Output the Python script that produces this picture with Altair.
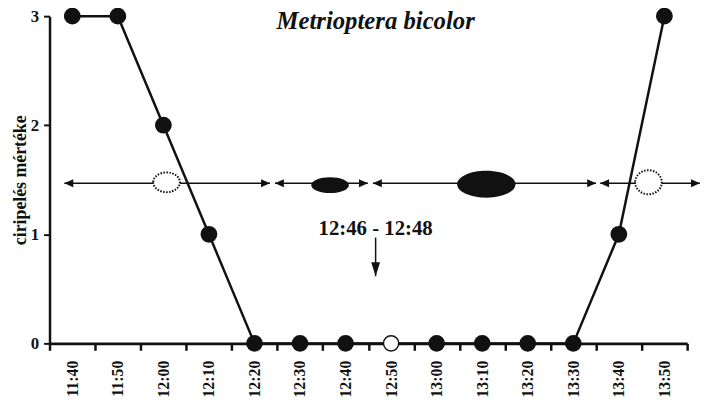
import altair as alt
import pandas as pd

# ---- data ----
times = ["11:40", "11:50", "12:00", "12:10", "12:20", "12:30", "12:40",
         "12:50", "13:00", "13:10", "13:20", "13:30", "13:40", "13:50"]
chirp_level = [3, 3, 2, 1, 0, 0, 0, 0, 0, 0, 0, 0, 1, 3]
open_times = ["12:50"]

# horizontal double-arrow segments (minutes after 11:40)
arrow_level = 1.468
seg_start = [-1.75, 44.5, 66.0, 115.9]
seg_end = [43.4, 64.9, 115.0, 137.8]

# chirping bursts on the arrow line (minutes after 11:40)
burst_min = [20.7, 56.6, 90.9, 126.5]
burst_level = [1.477, 1.45, 1.459, 1.477]
burst_filled = [False, True, True, False]

# annotation
note_text = "12:46 - 12:48"
note_min = 66.6
note_level = 0.997
note_arrow_top = 0.97
note_arrow_tip = 0.616

title_text = "Metrioptera bicolor"
title_min = 66.6
title_level = 2.882

# ---- styles ----
INK = "#111111"
FONT = "Liberation Serif"
burst_width = [27, 38, 59, 27]      # px
burst_ratio = [0.74, 0.42, 0.46, 0.9]

df = pd.DataFrame({"time": times, "level": chirp_level,
                   "open": [t in open_times for t in times]})

yscale = alt.Scale(domain=[0, 3], nice=False, zero=True)
xq_scale = alt.Scale(domain=[-5, 135], nice=False, zero=False)
band_scale = alt.Scale(type="band", paddingInner=0, paddingOuter=0)

yaxis = alt.Axis(values=[0, 1, 2, 3], title="ciripelés mértéke",
                 tickSize=6, tickWidth=2, labelPadding=5,
                 labelFontSize=17, titleFontSize=18, titlePadding=1,
                 domainWidth=2.5)

xband = alt.X("time:O", sort=times, scale=band_scale,
              axis=alt.Axis(title=None, labelAngle=-90, tickBand="extent",
                            tickSize=7, tickWidth=2.5, labelPadding=10,
                            labelFontSize=16, domainWidth=3))
yq = lambda f: alt.Y(f, scale=yscale, axis=yaxis)
xq = lambda f: alt.X(f, scale=xq_scale, axis=None)

line = alt.Chart(df).mark_line(color=INK, strokeWidth=2.5).encode(
    x=xband, y=yq("level:Q"))
pts = alt.Chart(df).mark_point(shape="circle", filled=True, size=240, opacity=1,
                               stroke=INK, strokeWidth=1.5).encode(
    x=xband, y=yq("level:Q"),
    fill=alt.condition("datum.open", alt.value("white"), alt.value(INK)))
main = alt.layer(line, pts)

seg_df = pd.DataFrame({"start": seg_start, "end": seg_end,
                       "level": [arrow_level] * len(seg_start)})

segs = alt.Chart(seg_df).mark_rule(color=INK, strokeWidth=1.5).encode(
    x=xq("start:Q"), x2="end:Q", y=yq("level:Q"))
heads_r = alt.Chart(seg_df).mark_point(
    shape="M0,0 L-1,-0.45 L-1,0.45 Z", size=324, filled=True, fill=INK,
    opacity=1).encode(x=xq("end:Q"), y=yq("level:Q"))
heads_l = alt.Chart(seg_df).mark_point(
    shape="M0,0 L1,-0.45 L1,0.45 Z", size=324, filled=True, fill=INK,
    opacity=1).encode(x=xq("start:Q"), y=yq("level:Q"))

ann = [segs, heads_r, heads_l]

for i in range(len(burst_min)):
    r = burst_ratio[i]
    path = f"M-1,0 A1,{r} 0 1,0 1,0 A1,{r} 0 1,0 -1,0 Z"
    bdf = pd.DataFrame({"m": [burst_min[i]], "level": [burst_level[i]]})
    if burst_filled[i]:
        mk = alt.Chart(bdf).mark_point(shape=path, size=burst_width[i] ** 2,
                                       filled=True, fill=INK, opacity=1)
    else:
        mk = alt.Chart(bdf).mark_point(shape=path, size=burst_width[i] ** 2,
                                       filled=True, fill="white", stroke=INK,
                                       strokeWidth=2, strokeDash=[1.5, 1.5],
                                       opacity=1)
    ann.append(mk.encode(x=xq("m:Q"), y=yq("level:Q")))

note_df = pd.DataFrame({"m": [note_min], "level": [note_level], "t": [note_text],
                        "top": [note_arrow_top], "tip": [note_arrow_tip]})
note = alt.Chart(note_df).mark_text(font=FONT, fontWeight="bold", fontSize=21,
                                    color=INK, align="center",
                                    baseline="alphabetic").encode(
    x=xq("m:Q"), y=yq("level:Q"), text="t:N")
note_line = alt.Chart(note_df).mark_rule(color=INK, strokeWidth=1.5).encode(
    x=xq("m:Q"), y=yq("top:Q"), y2="tip:Q")
note_head = alt.Chart(note_df).mark_point(
    shape="M0,0 L-0.32,-1 L0.32,-1 Z", size=784, filled=True, fill=INK,
    opacity=1).encode(x=xq("m:Q"), y=yq("tip:Q"))

title_df = pd.DataFrame({"m": [title_min], "level": [title_level], "t": [title_text]})
title = alt.Chart(title_df).mark_text(font=FONT, fontWeight="bold",
                                      fontStyle="italic", fontSize=25, color=INK,
                                      align="center", baseline="alphabetic").encode(
    x=xq("m:Q"), y=yq("level:Q"), text="t:N")

ann += [note, note_line, note_head, title]
annot = alt.layer(*ann)

chart = alt.layer(main, annot).resolve_scale(x="independent").properties(
    width=645, height=331,
    autosize=alt.AutoSizeParams(type="none"),
    padding={"left": 42, "top": 6, "right": 14, "bottom": 52},
    background="white",
).configure_view(stroke=None).configure_axis(
    labelFont=FONT, titleFont=FONT, labelFontWeight="bold", titleFontWeight="bold",
    labelColor=INK, titleColor=INK, domainColor=INK, tickColor=INK, grid=False,
)

chart.save("out.html", embed_options={"renderer": "svg", "actions": False})
